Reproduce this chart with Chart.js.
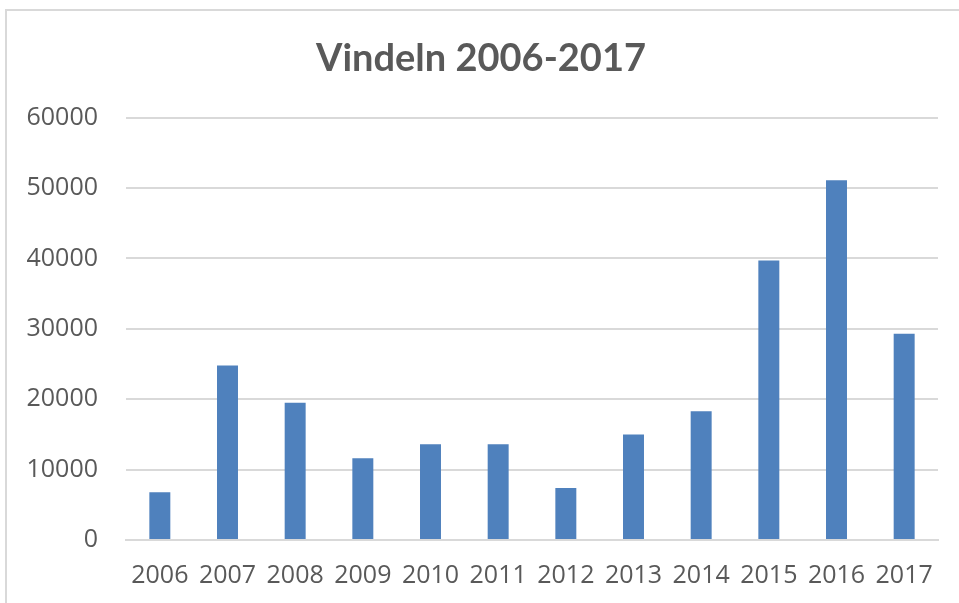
<!DOCTYPE html>
<html>
<head>
<meta charset="utf-8">
<script src="https://cdn.jsdelivr.net/npm/chart.js@4/dist/chart.umd.min.js"></script>
<style>
    html, body { margin: 0; padding: 0; background: #fff; overflow: hidden; }
    #wrap { position: relative; width: 959px; height: 603px; }
    #frame {
        position: absolute; left: 5px; top: 9px;
        width: 1000px; height: 700px;
        border: 2px solid #d9d9d9; box-sizing: border-box;
    }
    #chart-box { position: absolute; left: 0; top: 0; width: 959px; height: 603px; }
</style>
</head>
<body>
<div id="wrap">
    <div id="frame"></div>
    <div id="chart-box"><canvas id="vindelnChart"></canvas></div>
</div>
<script>
// data
const years = ['2006', '2007', '2008', '2009', '2010', '2011', '2012', '2013', '2014', '2015', '2016', '2017'];
const values = [6800, 24800, 19500, 11600, 13600, 13600, 7400, 15000, 18300, 39700, 51100, 29300];
const yTicks = [0, 10000, 20000, 30000, 40000, 50000, 60000];
const chartTitle = 'Vindeln 2006-2017';

document.addEventListener('DOMContentLoaded', () => {
    renderChart();
});

function renderChart() {
    const ctx = document.getElementById('vindelnChart').getContext('2d');
    const textColor = '#595959';
    const gridColor = '#d9d9d9';
    const tickFont = { family: 'Open Sans', size: 25 };

    new Chart(ctx, {
        type: 'bar',
        data: {
            labels: years,
            datasets: [{
                data: values,
                backgroundColor: '#4f81bd',
                borderWidth: 0,
                barPercentage: 1,
                categoryPercentage: 0.31
            }]
        },
        options: {
            responsive: true,
            maintainAspectRatio: false,
            animation: false,
            layout: {
                padding: { left: 24, right: 21, top: 12, bottom: 0 }
            },
            plugins: {
                legend: { display: false },
                tooltip: { enabled: false },
                title: {
                    display: true,
                    text: chartTitle,
                    color: textColor,
                    font: { family: 'Lato', size: 38, weight: 'bold' },
                    padding: { top: 24, bottom: 36 }
                }
            },
            scales: {
                x: {
                    grid: { display: false, drawTicks: false },
                    border: { display: true, color: gridColor, width: 2 },
                    afterFit: axis => { axis.height = 63; },
                    ticks: {
                        color: textColor,
                        font: tickFont,
                        padding: 21,
                        maxRotation: 0
                    }
                },
                y: {
                    min: 0,
                    max: 60000,
                    afterBuildTicks: axis => {
                        axis.ticks = yTicks.map(v => ({ value: v }));
                    },
                    afterFit: axis => { axis.width = 102; },
                    grid: { color: gridColor, lineWidth: 2, drawTicks: false },
                    border: { display: false },
                    ticks: {
                        color: textColor,
                        font: tickFont,
                        padding: 28,
                        callback: value => String(value)
                    }
                }
            }
        }
    });
}
</script>
</body>
</html>
